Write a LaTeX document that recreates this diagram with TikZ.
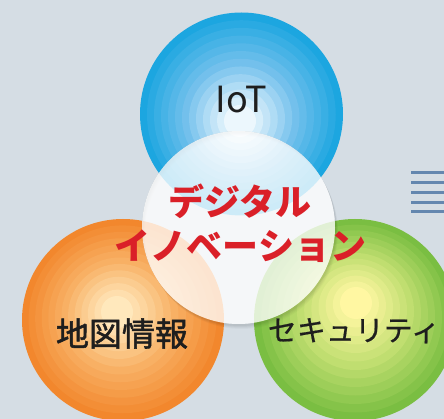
\documentclass[tikz,border=0pt]{standalone}
\usepackage{fontspec}
\setmainfont{Noto Sans CJK JP}
\newfontfamily\jpmed{Noto Sans CJK JP}[FakeBold=1.6]
\newfontfamily\jplight{Noto Sans CJK JP}[FakeBold=0.6]
\definecolor{bg}{RGB}{213,221,228}
\definecolor{bO}{RGB}{28,166,224}
\definecolor{bM}{RGB}{115,192,236}
\definecolor{bI}{RGB}{236,247,253}
\definecolor{oO}{RGB}{242,135,45}
\definecolor{oM}{RGB}{248,176,100}
\definecolor{oI}{RGB}{255,232,188}
\definecolor{gO}{RGB}{122,190,66}
\definecolor{gM}{RGB}{192,222,112}
\definecolor{gI}{RGB}{255,247,162}
\definecolor{deepred}{RGB}{218,32,40}
\definecolor{ink}{RGB}{30,30,30}
\definecolor{barblue}{RGB}{100,135,175}
\newcommand\gradcircle[8]{%
  \foreach \i in {0,...,12}{%
    \pgfmathsetmacro\t{\i/12}%
    \pgfmathsetmacro\r{#5-(#5-16)*\t}%
    \pgfmathsetmacro\px{#1+(#3-#1)*\t}%
    \pgfmathsetmacro\py{#2+(#4-#2)*\t}%
    \pgfmathtruncatemacro\pa{min(100,200*\t)}%
    \pgfmathtruncatemacro\pb{max(0,200*\t-100)}%
    \colorlet{tmpA}{#7!\pa!#6}%
    \colorlet{tmpB}{#8!\pb!tmpA}%
    \fill[tmpB] (\px,\py) circle[radius=\r];
  }}
\begin{document}
\begin{tikzpicture}[x=1pt,y=-1pt,
  label/.style={inner sep=0pt,anchor=base,text=ink},
  title/.style={inner sep=0pt,anchor=base,text=deepred,font=\bfseries\fontsize{36}{43}\selectfont},
  bar/.style={barblue,line width=3pt}]
\useasboundingbox (0,0) rectangle (444,419);
\clip (0,0) rectangle (444,419);
\fill[bg] (0,0) rectangle (444,419);
% coloured circles
\gradcircle{241.5}{114}{240}{121}{101.5}{bO}{bM}{bI}
\gradcircle{123}{320}{117}{312}{101}{oO}{oM}{oI}
\gradcircle{355}{320}{356}{303}{101}{gO}{gM}{gI}
% shadow of central circle (crescent only)
\foreach \s/\o in {5/0.025,4/0.03,3/0.035,2/0.04}{
  \fill[black,opacity=\o,even odd rule] (238.5+\s*0.6,227.5+\s) circle[radius=96.5] (238.5,227.5) circle[radius=96.5];
}
% central translucent circle
\fill[white,opacity=0.78] (238.5,227.5) circle[radius=96.5];
% labels
\node[label,font=\fontsize{36}{40}\selectfont] (iot) at (241.5,113) {IoT};
\node[label,font=\jpmed\fontsize{33}{36}\selectfont] (map) at (122,346) {地図情報};
\node[label,font=\jplight\fontsize{29}{32}\selectfont] (sec) at (354,341) {セキュリティ};
\node[title] (t1) at (240,216) {デジタル};
\node[title] (t2) at (240.5,260) {イノベーション};
% bars on the right
\coordinate (b1) at (411,172.7); \coordinate (e1) at (444,172.7);
\coordinate (b2) at (411,182.3); \coordinate (e2) at (444,182.3);
\coordinate (b3) at (411,192.7); \coordinate (e3) at (444,192.7);
\coordinate (b4) at (411,202.3); \coordinate (e4) at (444,202.3);
\coordinate (b5) at (411,212);   \coordinate (e5) at (444,212);
\foreach \k in {1,...,5}{\draw[bar] (b\k) -- (e\k);}
\end{tikzpicture}
\end{document}
